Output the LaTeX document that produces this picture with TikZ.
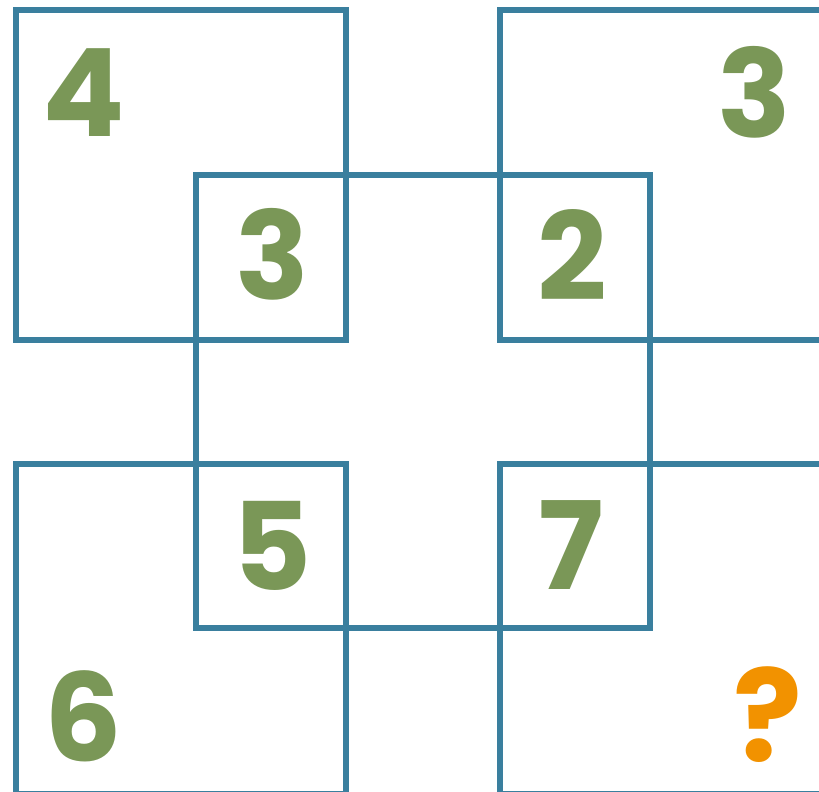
\documentclass[tikz,border=0pt]{standalone}
\usepackage{fontspec}
\setmainfont{Poppins}
\usepackage{xcolor}
\definecolor{frameblue}{HTML}{3A7F9E}
\definecolor{numgreen}{HTML}{7A9757}
\definecolor{askorange}{HTML}{F29200}

\begin{document}
\begin{tikzpicture}[x=0.5pt,y=-0.5pt,
  box/.style={line width=3pt,draw=frameblue},
  num/.style={inner sep=0pt,font=\fontsize{61}{61}\selectfont\bfseries,text=numgreen}]
\useasboundingbox (0,0) rectangle (819,792);
% four corner squares and the middle one
\foreach \x/\y in {16/10, 500/10, 16/464, 500/464} {
  \draw[box] (\x,\y) rectangle ++(330,330);
}
\draw[box] (196,175) rectangle (649.5,628);
% numbers
\node[num] (tl) at (83.5,92.5) {4};
\node[num] (tr) at (754.5,92.5) {3};
\node[num] (cl) at (272,254.5) {3};
\node[num] (cr) at (572,254.5) {2};
\node[num] (bl5) at (272.5,545.5) {5};
\node[num] (br7) at (571.5,545.5) {7};
\node[num] (bl) at (83.5,716.5) {6};
\node[num,text=askorange,font=\fontsize{64}{64}\selectfont\bfseries] (br) at (767.5,714.5) {?};
\end{tikzpicture}
\end{document}
